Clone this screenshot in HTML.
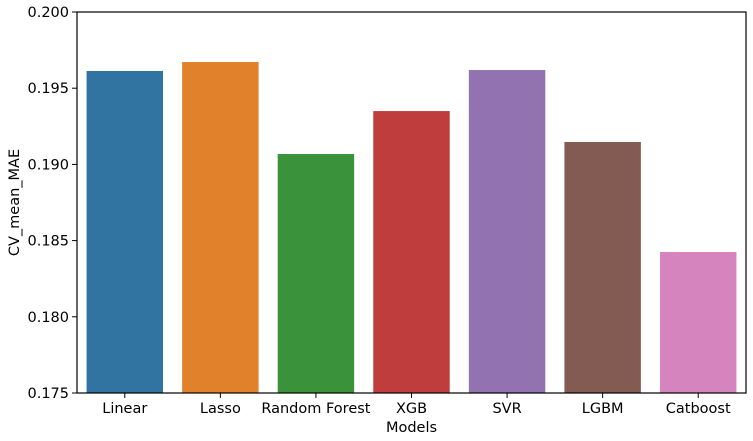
<!DOCTYPE html>
<html><head><meta charset="utf-8"><style>
body{margin:0;background:#fff;}
svg{display:block;font-family:"DejaVu Sans","Liberation Sans",sans-serif;}
</style></head><body>
<svg id="chart" width="753" height="441">
<g id="bars"></g>
<g id="axes"></g>
</svg>
<script>
const categories = ["Linear","Lasso","Random Forest","XGB","SVR","LGBM","Catboost"];
const values = [0.19613,0.19672,0.19068,0.19350,0.19619,0.19147,0.18425];
const colors = ["#3274a1","#e1812c","#3a923a","#c03d3e","#9372b2","#845b53","#d684bd"];
const yTicks = [0.175,0.180,0.185,0.190,0.195,0.200];
const yMin = 0.175, yMax = 0.200;
const L=77,R=746,T=12,B=393;
const ns="http://www.w3.org/2000/svg";
function y(v){return B-(v-yMin)/(yMax-yMin)*(B-T);}
const step=(R-L)/categories.length;
function xc(i){return L+step*(i+0.5);}
function mk(tag,attrs,parent){const e=document.createElementNS(ns,tag);for(const k in attrs)e.setAttribute(k,attrs[k]);parent.appendChild(e);return e;}
const bars=document.getElementById('bars'), axes=document.getElementById('axes');
categories.forEach((c,i)=>{
  const w=step*0.8;
  const r=mk('rect',{x:xc(i)-w/2,y:y(values[i]),width:w,height:B-y(values[i]),fill:colors[i]},bars);
  
  
  mk('line',{x1:xc(i),x2:xc(i),y1:B,y2:B+5,stroke:'#000','stroke-width':1},axes);
  const t=mk('text',{x:xc(i),y:B+20,'text-anchor':'middle','font-size':14.5,fill:'#000'},axes);
  t.textContent=c;
  
  
});
yTicks.forEach(v=>{
  mk('line',{x1:L-5,x2:L,y1:y(v),y2:y(v),stroke:'#000','stroke-width':1},axes);
  const t=mk('text',{x:L-8,y:y(v)+5,'text-anchor':'end','font-size':14.5,fill:'#000'},axes);
  t.textContent=v.toFixed(3);
  
  
});
const f=mk('rect',{x:L,y:T,width:R-L,height:B-T,fill:'none',stroke:'#000','stroke-width':1.2},axes);


const xt=mk('text',{x:(L+R)/2,y:432,'text-anchor':'middle','font-size':14.5},axes);
xt.textContent='Models';


const yt=mk('text',{x:0,y:0,'text-anchor':'middle','font-size':14.5,transform:`translate(19,${(T+B)/2}) rotate(-90)`},axes);
yt.textContent='CV_mean_MAE';


</script>
</body></html>
